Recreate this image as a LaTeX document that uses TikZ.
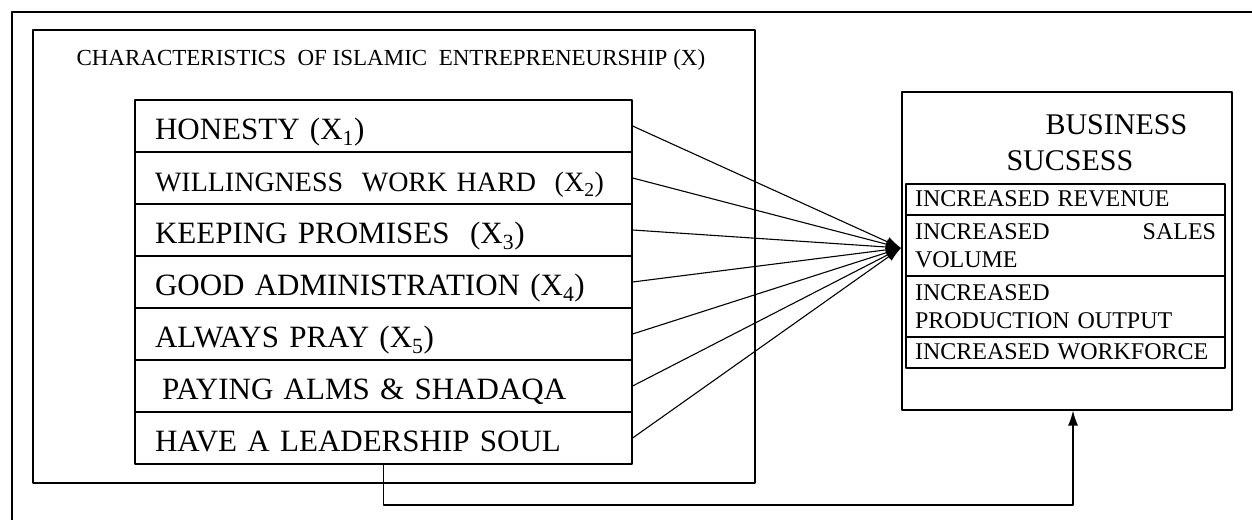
\documentclass[tikz,border=0pt]{standalone}
\usepackage{fontspec}
\setmainfont{Liberation Serif}
\usetikzlibrary{arrows.meta}
\tikzset{
  trait/.style={draw,line width=1.2bp,text width=457bp,align=left,inner xsep=20bp,inner ysep=8bp,
    text height=32bp,text depth=4bp,font=\fontsize{31bp}{34bp}\selectfont},
  result/.style={draw,line width=1.2bp,text width=301bp,align=left,inner xsep=9bp,inner ysep=6bp,
    text height=17bp,text depth=2bp,font=\fontsize{24bp}{28bp}\selectfont},
}
\begin{document}
\begin{tikzpicture}[>={Latex[length=15bp,width=10bp]},line join=bevel,]
\useasboundingbox (0bp,0bp) rectangle (1252bp,520bp);
%%
\draw [line width=2.5bp] (12bp,0bp) -- (12bp,508bp) -- (1252bp,508bp);
%%
\node (node_x) at (394bp,263.5bp) [draw,line width=1.2bp,minimum width=722bp,minimum height=453bp] {};
\node (node_title) at (73bp,454bp) [anchor=base west,font=\fontsize{23bp}{27bp}\selectfont] {CHARACTERISTICS\ \ OF ISLAMIC\ \ ENTREPRENEURSHIP (X)};
  \node (node_x1) at (383.5bp,394bp) [trait] {HONESTY (X\textsubscript{1})};
  \node (node_x2) at (383.5bp,342bp) [trait,font=\fontsize{28bp}{32bp}\selectfont] {WILLINGNESS\ \ WORK HARD\ \ (X\textsubscript{2})};
  \node (node_x3) at (383.5bp,290bp) [trait] {KEEPING PROMISES\ \ (X\textsubscript{3})};
  \node (node_x4) at (383.5bp,238bp) [trait] {GOOD ADMINISTRATION (X\textsubscript{4})};
  \node (node_x5) at (383.5bp,186bp) [trait] {ALWAYS PRAY (X\textsubscript{5})};
  \node (node_x6) at (383.5bp,134bp) [trait] {\hspace*{7bp}PAYING ALMS \& SHADAQA};
  \node (node_x7) at (383.5bp,82bp) [trait] {HAVE A LEADERSHIP SOUL};
%%
\node (node_y) at (1067bp,269bp) [draw,line width=1.2bp,minimum width=330bp,minimum height=318bp] {};
\node (node_head1) at (1042bp,385.3bp) [anchor=base west,font=\fontsize{30bp}{34bp}\selectfont] {BUSINESS};
\node (node_head2) at (1003bp,349bp) [anchor=base west,font=\fontsize{30bp}{34bp}\selectfont] {SUCSESS};
  \node (node_y1) at (1065.5bp,320.5bp) [result] {INCREASED REVENUE};
  \node (node_y2) at (1065.5bp,274.5bp) [result,text height=19bp,text depth=30bp] {INCREASED\hfill SALES\\VOLUME};
  \node (node_y3) at (1065.5bp,213.5bp) [result,text height=19bp,text depth=30bp] {INCREASED\\PRODUCTION OUTPUT};
  \node (node_y4) at (1065.5bp,167.5bp) [result] {INCREASED WORKFORCE};
%
\coordinate (hub) at (901bp,272bp);
  \draw [->,line width=1.1bp] (node_x1.east) -- (hub);
  \draw [->,line width=1.1bp] (node_x2.east) -- (hub);
  \draw [->,line width=1.1bp] (node_x3.east) -- (hub);
  \draw [->,line width=1.1bp] (node_x4.east) -- (hub);
  \draw [->,line width=1.1bp] (node_x5.east) -- (hub);
  \draw [->,line width=1.1bp] (node_x6.east) -- (hub);
  \draw [->,line width=1.1bp] (node_x7.east) -- (hub);
%
\coordinate (turn) at (1073bp,15bp);
  \draw [->,line width=1.2bp] (node_x7.south) |- (turn) -- (node_y.south -| turn);
%
\end{tikzpicture}
\end{document}
